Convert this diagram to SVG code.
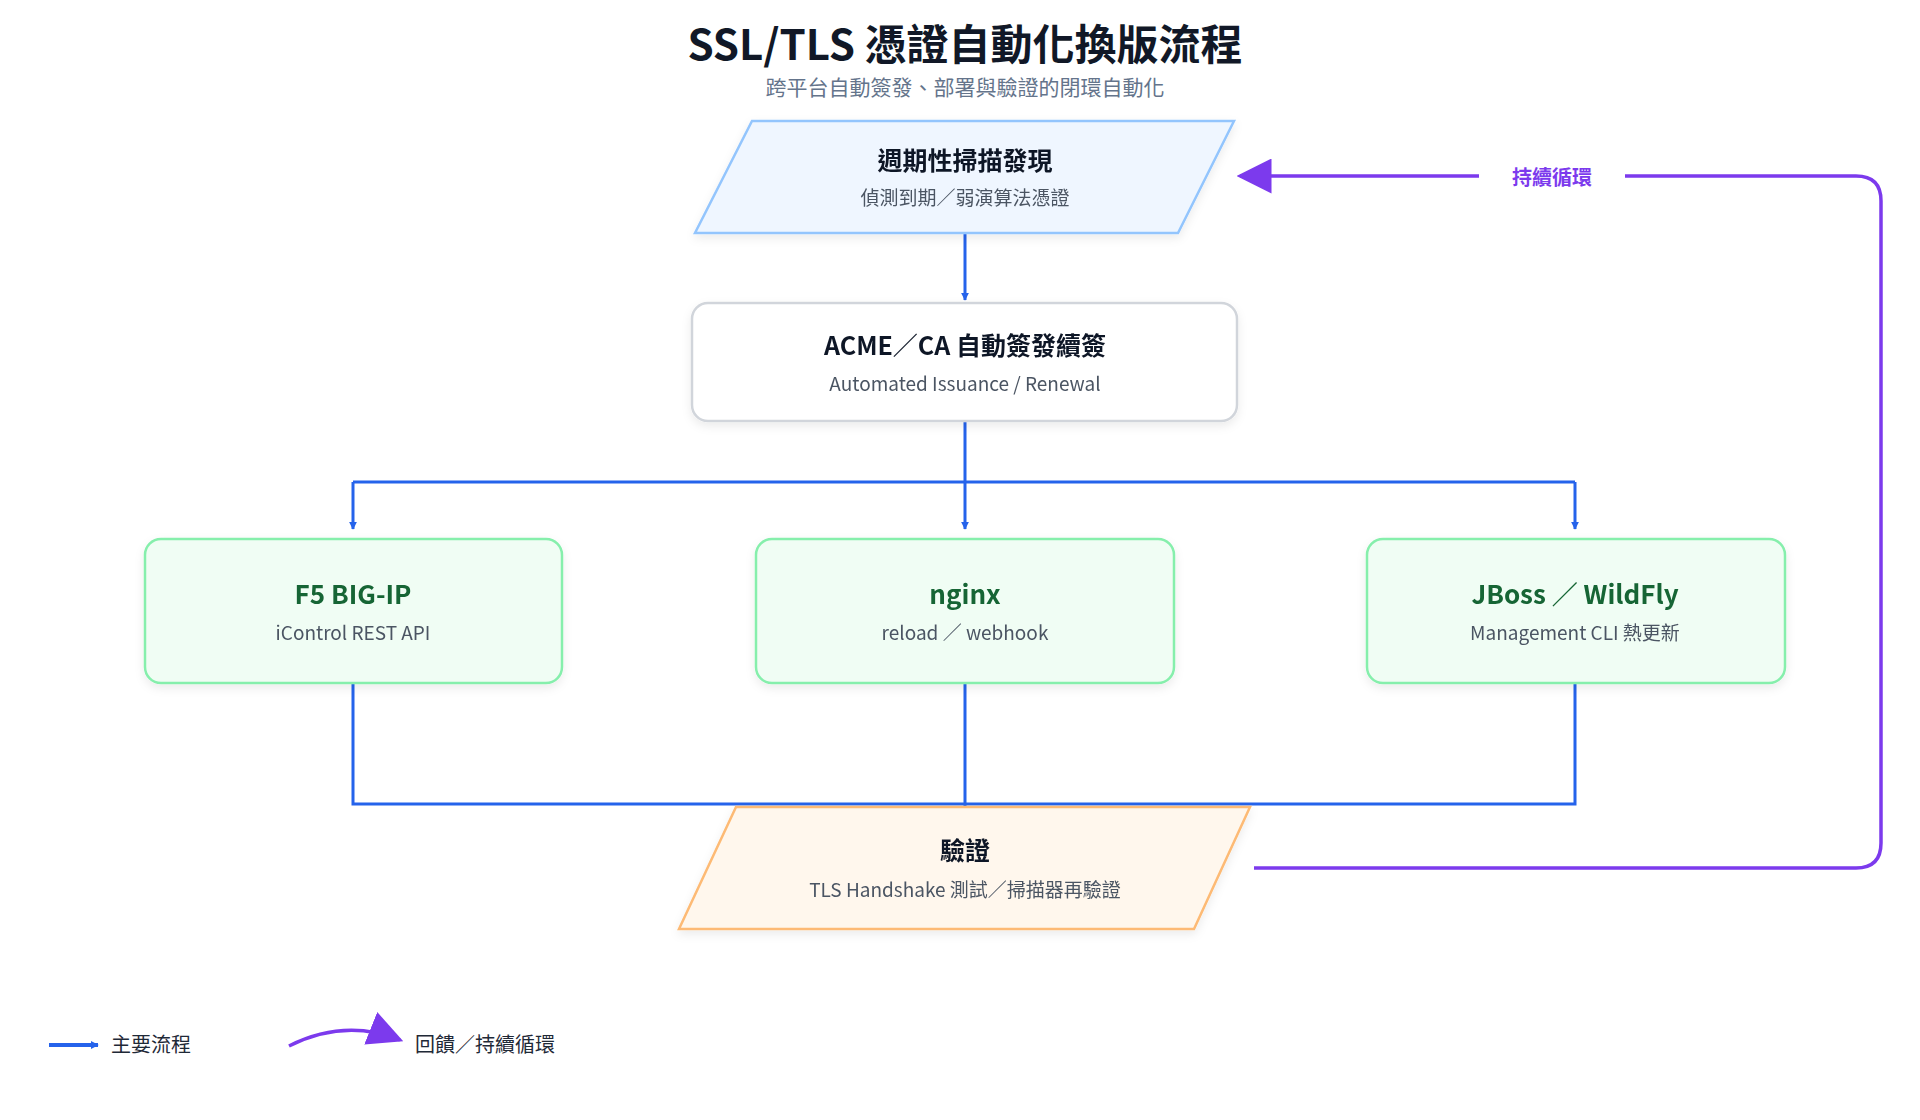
<svg xmlns="http://www.w3.org/2000/svg" width="1920" height="1120" viewBox="0 0 1920 1120">
<style>
text{font-family:"Noto Sans CJK TC","Noto Sans",sans-serif;text-anchor:middle}
.t{font-size:25px;font-weight:700;fill:#111827}
.s{font-size:19px;fill:#4b5563}
.g{font-size:26px;font-weight:700;fill:#166534}
.blue{stroke:#2563eb;stroke-width:3;fill:none}
.green{fill:#f0fdf4;stroke:#86efac;stroke-width:2.5}
</style>
<defs>
<marker id="ab" viewBox="0 0 10 10" refX="9" refY="5" markerWidth="8" markerHeight="8" orient="auto" markerUnits="userSpaceOnUse"><path d="M0,0L10,5L0,10z" fill="#2563eb"/></marker>
<marker id="ap" viewBox="0 0 10 10" refX="9" refY="5" markerWidth="10" markerHeight="10" orient="auto"><path d="M0,0L10,5L0,10z" fill="#7c3aed"/></marker>
<filter id="sh" x="-10%" y="-10%" width="120%" height="130%"><feDropShadow dx="0" dy="4" stdDeviation="5" flood-color="#000" flood-opacity="0.08"/></filter>
</defs>
<text x="965" y="60" style="font-size:42px;font-weight:700;fill:#111827">SSL/TLS 憑證自動化換版流程</text>
<text x="965" y="95" style="font-size:21px;fill:#64748b">跨平台自動簽發、部署與驗證的閉環自動化</text>
<g id="connectors">
<line x1="965" y1="233" x2="965" y2="300" class="blue" marker-end="url(#ab)" style="stroke-width:3"/>
<path d="M965 421V482M353 482H1575" class="blue"/>
<line x1="353" y1="482" x2="353" y2="529" class="blue" marker-end="url(#ab)"/>
<line x1="965" y1="482" x2="965" y2="529" class="blue" marker-end="url(#ab)"/>
<line x1="1575" y1="482" x2="1575" y2="529" class="blue" marker-end="url(#ab)"/>
<path d="M353 683V804H1575V683M965 683V807" class="blue"/>
<path d="M1254 868H1856Q1881 868 1881 843V201Q1881 176 1856 176H1240" fill="none" stroke="#7c3aed" stroke-width="3.5" marker-end="url(#ap)"/>
<rect x="1479" y="164" width="146" height="26" fill="#fff"/>
<text x="1552" y="185" style="font-size:20px;font-weight:700;fill:#7c3aed">持續循環</text>
</g>
<g id="scan" filter="url(#sh)">
<polygon points="752,121 1234,121 1178,233 695,233" fill="#eff6ff" stroke="#93c5fd" stroke-width="2.5"/>
<text x="965" y="170" class="t">週期性掃描發現</text>
<text x="965" y="205" class="s">偵測到期／弱演算法憑證</text>
</g>
<g id="acme" filter="url(#sh)">
<rect x="692" y="303" width="545" height="118" rx="16" fill="#fff" stroke="#d1d5db" stroke-width="2.5"/>
<text x="965" y="355" class="t">ACME／CA 自動簽發續簽</text>
<text x="965" y="391" class="s">Automated Issuance / Renewal</text>
</g>
<g id="f5" filter="url(#sh)">
<rect x="145" y="539" width="417" height="144" rx="16" class="green"/>
<text x="353" y="604" class="g">F5 BIG-IP</text>
<text x="353" y="640" class="s">iControl REST API</text>
</g>
<g id="nginx" filter="url(#sh)">
<rect x="756" y="539" width="418" height="144" rx="16" class="green"/>
<text x="965" y="604" class="g">nginx</text>
<text x="965" y="640" class="s">reload ／ webhook</text>
</g>
<g id="jboss" filter="url(#sh)">
<rect x="1367" y="539" width="418" height="144" rx="16" class="green"/>
<text x="1575" y="604" class="g">JBoss ／ WildFly</text>
<text x="1575" y="640" class="s">Management CLI 熱更新</text>
</g>
<g id="verify" filter="url(#sh)">
<polygon points="736,807 1250,807 1194,929 679,929" fill="#fff7ed" stroke="#fdba74" stroke-width="2.5"/>
<text x="965" y="860" class="t">驗證</text>
<text x="965" y="897" class="s">TLS Handshake 測試／掃描器再驗證</text>
</g>
<g id="legend">
<line x1="49" y1="1045" x2="98" y2="1045" class="blue" style="stroke-width:4" marker-end="url(#ab)"/>
<text x="111" y="1052" style="font-size:20px;fill:#1f2937;text-anchor:start">主要流程</text>
<path d="M289 1046Q345 1018 400 1040" fill="none" stroke="#7c3aed" stroke-width="3.5" marker-end="url(#ap)"/>
<text x="415" y="1052" style="font-size:20px;fill:#1f2937;text-anchor:start">回饋／持續循環</text>
</g>
</svg>
